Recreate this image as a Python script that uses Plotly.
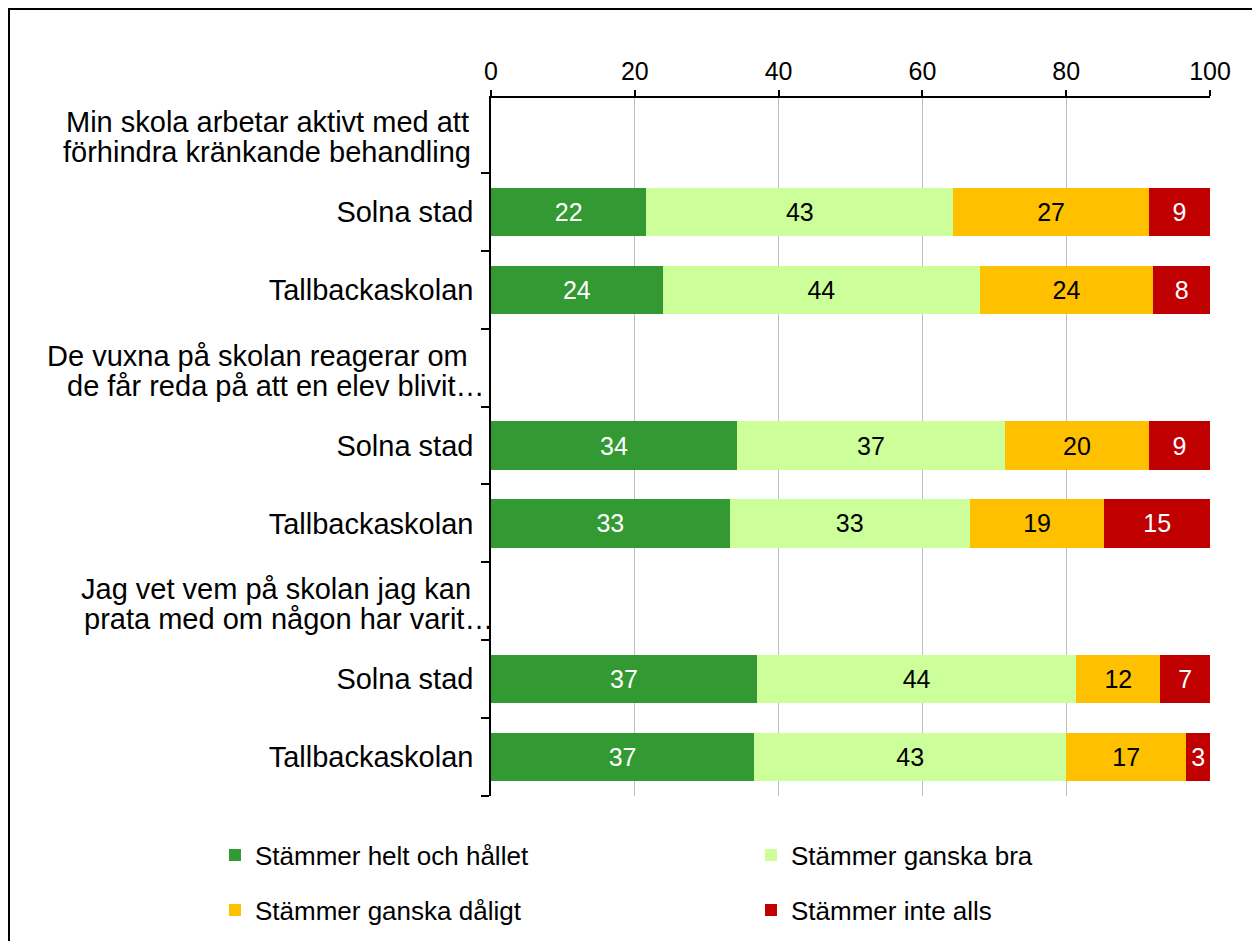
import plotly.graph_objects as go

# ---- data ----
question_lines = [
    ["Min skola arbetar aktivt med att", "förhindra kränkande behandling"],
    ["De vuxna på skolan reagerar om", "de får reda på att en elev blivit…"],
    ["Jag vet vem på skolan jag kan", "prata med om någon har varit…"],
]
groups = ["Solna stad", "Tallbackaskolan"]
series_names = ["Stämmer helt och hållet", "Stämmer ganska bra",
                "Stämmer ganska dåligt", "Stämmer inte alls"]
helt = [21.6, 23.9, 34.2, 33.2, 37.0, 36.6]
bra = [42.7, 44.1, 37.3, 33.4, 44.4, 43.4]
daligt = [27.2, 24.1, 20.0, 18.7, 11.7, 16.7]
inte = [8.5, 7.9, 8.5, 14.7, 6.9, 3.3]
x_ticks = [0, 20, 40, 60, 80, 100]

colors = ["#339933", "#CCFF99", "#FFC000", "#C00000"]
text_colors = ["white", "black", "black", "white"]
FONT = "Liberation Sans, Arial, sans-serif"

# category ids (top to bottom) and tick texts
cat_ids, cat_text, bar_ids = [], [], []
for qi in range(len(question_lines)):
    cat_ids.append(f"h{qi}")
    cat_text.append("")
    for gi, g in enumerate(groups):
        cid = f"q{qi}g{gi}"
        cat_ids.append(cid)
        cat_text.append(g)
        bar_ids.append(cid)

legend_names = ["legend", "legend2", "legend3", "legend4"]
fig = go.Figure()
values = [helt, bra, daligt, inte]
for i, name in enumerate(series_names):
    fig.add_trace(go.Bar(
        y=bar_ids, x=values[i], name=name, orientation="h",
        marker=dict(color=colors[i], line=dict(width=0)),
        texttemplate="%{x:.0f}", textposition="inside",
        insidetextanchor="middle", constraintext="none",
        textfont=dict(color=text_colors[i], size=25, family=FONT),
        legend=legend_names[i], showlegend=True,
        hoverinfo="skip",
    ))

# header labels as annotations (two lines each)
right_edges = [[-20, -18], [-21, -4], [-18, 4]]
for qi, lines in enumerate(question_lines):
    for li, line in enumerate(lines):
        fig.add_annotation(
            x=0, xref="paper", y=f"h{qi}", yref="y",
            text=line, showarrow=False, xanchor="right", yanchor="middle",
            xshift=right_edges[qi][li], yshift=12 if li == 0 else -18,
            font=dict(size=29, family=FONT, color="black"),
        )

leg_pos = [(-0.3839, -0.0845), (0.3616, -0.0845), (-0.3839, -0.1633), (0.3616, -0.1633)]
legends = {}
for name, (lx, ly) in zip(legend_names, leg_pos):
    legends[name] = dict(orientation="h", x=lx, xanchor="left", y=ly, yanchor="middle",
                         font=dict(size=26, family=FONT, color="black"),
                         bgcolor="rgba(0,0,0,0)", visible=True)

fig.update_layout(
    width=1260, height=941,
    margin=dict(l=483, r=58, t=90, b=153),
    paper_bgcolor="white", plot_bgcolor="white",
    barmode="stack", bargap=0.38, showlegend=True,
    font=dict(family=FONT, color="black"),
    shapes=[dict(type="rect", xref="paper", yref="paper",
                 x0=-0.6704, x1=1.078, y0=-0.2178, y1=1.1275,
                 line=dict(color="black", width=2), fillcolor="rgba(0,0,0,0)")],
    **legends,
)
fig.update_xaxes(
    side="top", range=[0, 100], tickvals=x_ticks,
    showgrid=True, gridcolor="#BFBFBF", gridwidth=1.3, zeroline=False,
    showline=True, linecolor="black", linewidth=1.5,
    ticks="outside", ticklen=6, tickcolor="black", tickwidth=1.5,
    tickfont=dict(size=25, family=FONT, color="black"),
)
fig.update_yaxes(
    type="category", categoryorder="array", categoryarray=cat_ids,
    tickmode="array", tickvals=cat_ids, ticktext=cat_text,
    autorange="reversed", tickson="boundaries",
    showline=True, linecolor="black", linewidth=1.5,
    ticks="outside", ticklen=8, tickcolor="black", tickwidth=1.5,
    showgrid=False, ticklabelstandoff=10,
    tickfont=dict(size=29, family=FONT, color="black"),
)

fig.write_html("out.html")
